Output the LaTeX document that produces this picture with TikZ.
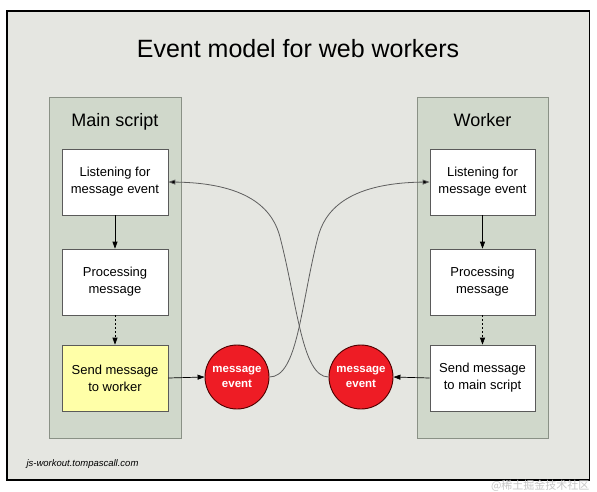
\documentclass[tikz,border=0pt]{standalone}
\usepackage{fontspec}
\setmainfont{Liberation Sans}
\newfontfamily\cjk{Noto Sans CJK SC}
\usetikzlibrary{arrows.meta}
\definecolor{bgc}{HTML}{E5E6E1}
\definecolor{panelc}{HTML}{D0D8CB}
\definecolor{paneledge}{HTML}{8A9186}
\definecolor{boxedge}{HTML}{5A5A5A}
\definecolor{yellowc}{HTML}{FFFFA8}
\definecolor{redc}{HTML}{EE1C25}
\definecolor{curvec}{HTML}{5E5E5E}
\tikzset{
  panel/.style={draw=paneledge, fill=panelc, line width=0.8pt, minimum width=132pt, minimum height=341pt, inner sep=0pt},
  stepbox/.style={draw=boxedge, fill=white, line width=0.7pt, minimum width=106pt, minimum height=66pt, inner sep=0pt, align=center, font=\fontsize{13}{17}\selectfont},
  evt/.style={circle, draw=black!70!red, fill=redc, line width=0.9pt, minimum size=64pt, inner sep=0pt, align=center, text=white, font=\fontsize{11.5}{15}\selectfont\bfseries},
  conn/.style={line width=0.7pt, -{Triangle[length=7pt,width=5pt]}},
  curve/.style={draw=curvec, line width=0.8pt, -{Triangle[length=7pt,width=5pt,fill=black]}},
  ptitle/.style={font=\fontsize{18}{22}\selectfont, anchor=base}
}
\begin{document}
\begin{tikzpicture}[x=1pt,y=-1pt]
\useasboundingbox (0,0) rectangle (597,491);
\fill[white] (0,0) rectangle (597,491);
\draw[fill=bgc, line width=1.1pt] (7,11) rectangle (589.5,480);
\node[font=\fontsize{25}{30}\selectfont, anchor=base] (title) at (298,57) {Event model for web workers};
% panels
\node[panel] (mainp) at (115,267.5) {};
\node[panel, minimum width=131pt] (workp) at (482.5,267.5) {};
\node[ptitle] (maint) at (115,126) {Main script};
\node[ptitle] (workt) at (482.5,126) {Worker};
% main boxes
\node[stepbox] (m1) at (115,182) {Listening for\\message event};
\node[stepbox] (m2) at (115,282) {Processing\\message};
\node[stepbox, fill=yellowc] (m3) at (115,378) {Send message\\to worker};
% worker boxes
\node[stepbox, minimum width=105pt] (w1) at (482.5,182) {Listening for\\message event};
\node[stepbox, minimum width=105pt] (w2) at (482.5,282) {Processing\\message};
\node[stepbox, minimum width=105pt] (w3) at (482.5,378) {Send message\\to main script};
% events
\node[evt] (e1) at (237,377) {message\\event};
\node[evt] (e2) at (361,377) {message\\event};
% connectors
\draw[conn] (m1) -- (m2);
\draw[conn, dash pattern=on 2pt off 2pt] (m2) -- (m3);
\draw[conn] (w1) -- (w2);
\draw[conn, dash pattern=on 2pt off 2pt] (w2) -- (w3);
\draw[conn] (m3.east) -- (e1.west);
\draw[conn] (w3.west) -- (e2.east);
\coordinate (ma) at (318,237);
\coordinate (mb) at (280,237);
\draw[curve] (e1.east) .. controls (298,377) and (300.5,304.9) .. (ma)
  .. controls (324.3,212.8) and (345,183) .. (w1.west);
\draw[curve] (e2.west) .. controls (302,377) and (297.5,304.9) .. (mb)
  .. controls (273.7,212.8) and (253,183) .. (m1.east);
% credits
\node[font=\fontsize{9.5}{11}\selectfont\itshape, anchor=base west] (cred) at (23,466) {js-workout.tompascall.com};
\node[font=\cjk\fontsize{11}{13}\selectfont, text=black!22, anchor=base east] (wm) at (593,489) {@稀土掘金技术社区};
\end{tikzpicture}
\end{document}
